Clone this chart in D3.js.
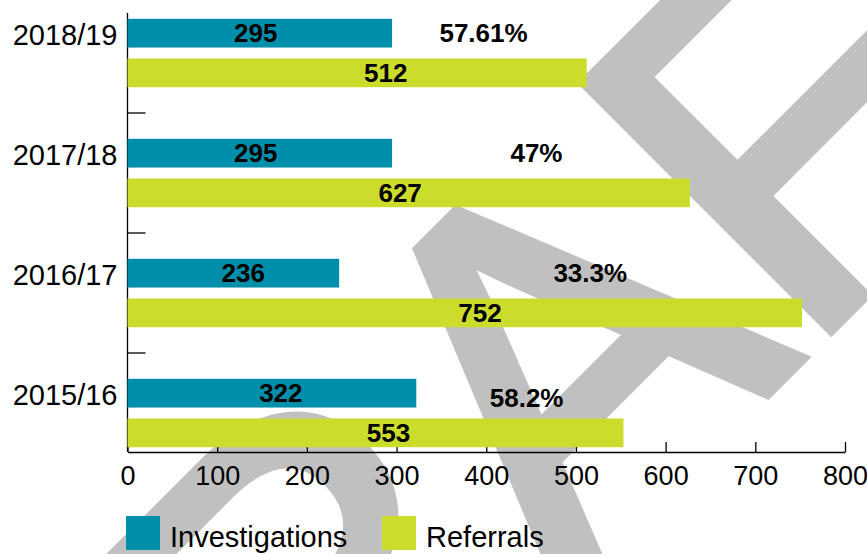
<!DOCTYPE html>
<html>
<head>
<meta charset="utf-8">
<script src="https://cdn.jsdelivr.net/npm/d3@7"></script>
<style>
  html, body { margin: 0; padding: 0; background: #fff; }
  svg { display: block; }
  text { font-family: "Liberation Sans", Arial, sans-serif; }
</style>
</head>
<body>
<div id="chart"></div>
<script>
// ---- data ----
const categories = ["2018/19", "2017/18", "2016/17", "2015/16"];
const series = ["Investigations", "Referrals"];
const investigations = [295, 295, 236, 322];
const referrals = [512, 627, 752, 553];
const ratioLabels = ["57.61%", "47%", "33.3%", "58.2%"];
const xTicks = [0, 100, 200, 300, 400, 500, 600, 700, 800];
// label anchor positions, in data units along the value axis
const invLabelAt = [143, 143, 129, 171];
const refLabelAt = [288, 304, 393, 291];
const ratioLabelAt = [397, 456, 516, 445];

// ---- layout ----
const W = 867, H = 554;
const plotTop = 13, plotBottom = 452;
const colors = { Investigations: "#008fab", Referrals: "#cbdc2b" };

const svg = d3.select("#chart").append("svg")
  .attr("width", W).attr("height", H);

// watermark
svg.append("text")
  .attr("transform", "translate(48,1112) rotate(-45)")
  .attr("font-size", 505)
  .attr("fill", "#c0c0c0")
  .attr("stroke", "#c0c0c0")
  .attr("stroke-width", 12)
  .attr("stroke-linejoin", "miter")
  .text("DRAFT");

const x = d3.scaleLinear().domain([0, 800]).range([127.5, 845]);
const y0 = d3.scaleBand().domain(categories).range([-7, 473]);
const y1 = d3.scaleBand().domain(series).range([0, y0.bandwidth()])
  .paddingInner(0.275).paddingOuter(0.65);

// x axis
const xAxis = d3.axisBottom(x).tickValues(xTicks).tickSize(-10).tickSizeOuter(0).tickPadding(14);
const gx = svg.append("g").attr("transform", `translate(0,${plotBottom})`).call(xAxis);
gx.select(".domain").attr("stroke", "#000").attr("stroke-width", 1.3);
gx.selectAll(".tick line").attr("stroke", "#000").attr("stroke-width", 1.3);
gx.selectAll(".tick text").attr("font-size", 27).attr("fill", "#000")
  .attr("font-family", "'Liberation Sans', Arial, sans-serif");

// y axis line + boundary ticks
const gy = svg.append("g");
gy.append("line")
  .attr("x1", x(0)).attr("x2", x(0))
  .attr("y1", plotTop).attr("y2", plotBottom)
  .attr("stroke", "#000").attr("stroke-width", 1.3);
gy.selectAll("line.bt").data(categories.slice(1)).join("line")
  .attr("class", "bt")
  .attr("x1", x(0)).attr("x2", x(0) + 18)
  .attr("y1", d => y0(d)).attr("y2", d => y0(d))
  .attr("stroke", "#000").attr("stroke-width", 1.3);

// category labels
gy.selectAll("text.cat").data(categories).join("text")
  .attr("class", "cat")
  .attr("x", x(0) - 10)
  .attr("y", d => y0(d) + y1("Investigations") + y1.bandwidth() / 2 + 2)
  .attr("text-anchor", "end")
  .attr("dominant-baseline", "central")
  .attr("font-size", 29)
  .attr("fill", "#000")
  .text(d => d);

// bars
const rows = categories.map((c, i) => ({
  cat: c,
  vals: [
    { s: "Investigations", v: investigations[i], at: invLabelAt[i] },
    { s: "Referrals", v: referrals[i], at: refLabelAt[i] }
  ],
  ratio: ratioLabels[i],
  ratioAt: ratioLabelAt[i]
}));

const groups = svg.selectAll("g.grp").data(rows).join("g")
  .attr("class", "grp")
  .attr("transform", d => `translate(0,${y0(d.cat)})`);

groups.selectAll("rect").data(d => d.vals).join("rect")
  .attr("x", x(0))
  .attr("y", d => y1(d.s))
  .attr("width", d => x(d.v) - x(0))
  .attr("height", y1.bandwidth())
  .attr("fill", d => colors[d.s]);

groups.selectAll("text.val").data(d => d.vals).join("text")
  .attr("class", "val")
  .attr("x", d => x(d.at))
  .attr("y", d => y1(d.s) + y1.bandwidth() / 2)
  .attr("text-anchor", "middle")
  .attr("dominant-baseline", "central")
  .attr("font-size", 26)
  .attr("font-weight", "bold")
  .attr("fill", "#000")
  .text(d => d.v);

groups.append("text")
  .attr("class", "ratio")
  .attr("x", d => x(d.ratioAt))
  .attr("y", (d, i) => y1("Investigations") + y1.bandwidth() / 2 + (i === 3 ? 5 : 0))
  .attr("text-anchor", "middle")
  .attr("dominant-baseline", "central")
  .attr("font-size", 26)
  .attr("font-weight", "bold")
  .attr("fill", "#000")
  .text(d => d.ratio);

// legend
const legend = svg.append("g").attr("transform", "translate(126,516)");
const li = legend.selectAll("g").data(series).join("g")
  .attr("transform", (d, i) => `translate(${i * 256},0)`);
li.append("rect").attr("width", 34).attr("height", 34).attr("fill", d => colors[d]);
li.append("text").attr("x", 44).attr("y", 31)
  .attr("font-size", 29).attr("fill", "#000").text(d => d);
</script>
</body>
</html>
